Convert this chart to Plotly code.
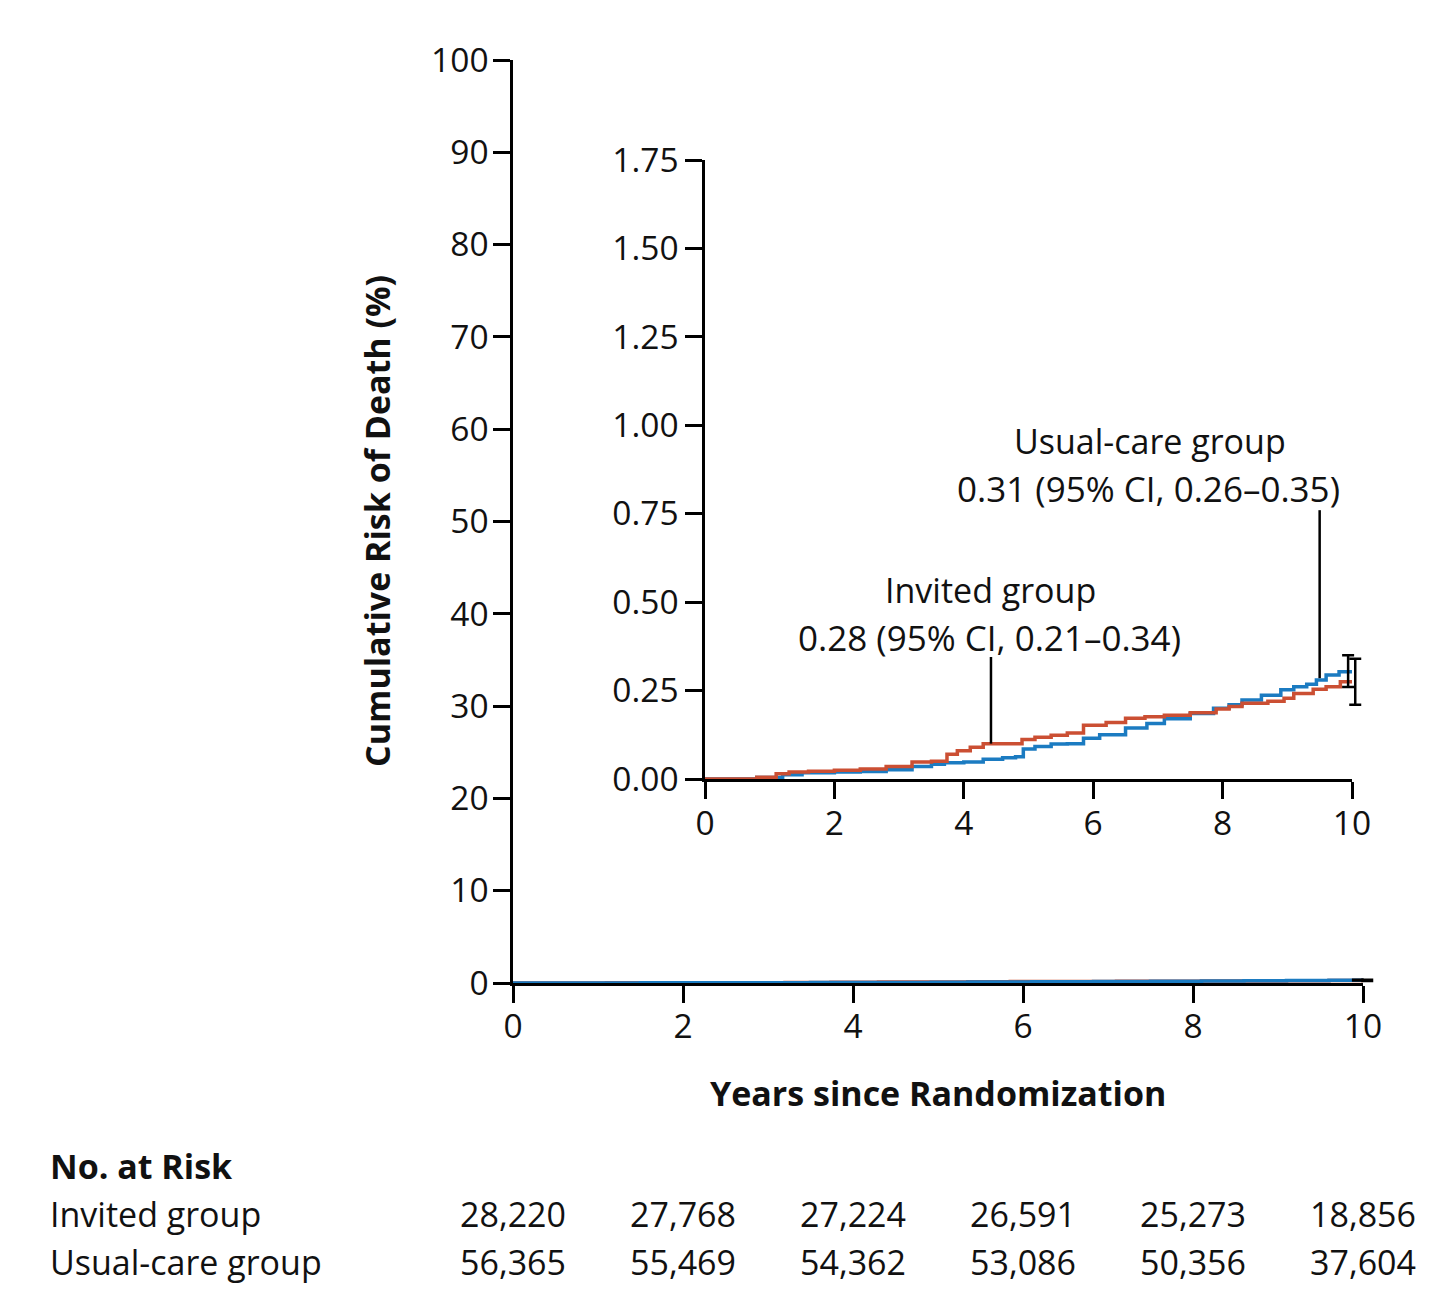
import plotly.graph_objects as go

# ---- Data ----
invited_t = [0, 0.35, 0.8, 1.1, 1.3, 1.6, 2.0, 2.4, 2.8, 3.2, 3.5, 3.74, 3.9, 4.1, 4.3,
             4.75, 4.9, 5.1, 5.35, 5.6, 5.85, 6.2, 6.5, 6.8, 7.1, 7.5, 7.9, 8.1, 8.3,
             8.7, 8.95, 9.1, 9.4, 9.6, 9.82, 10.0]
invited_y = [0, 0, 0.005, 0.015, 0.02, 0.022, 0.025, 0.028, 0.035, 0.048, 0.05, 0.07, 0.08,
             0.09, 0.10, 0.10, 0.112, 0.118, 0.124, 0.13, 0.152, 0.16, 0.172, 0.176, 0.18,
             0.187, 0.198, 0.205, 0.214, 0.22, 0.228, 0.242, 0.254, 0.261, 0.275, 0.275]

usual_t = [0, 0.35, 0.8, 1.2, 1.5, 2.0, 2.4, 2.8, 3.2, 3.5, 3.7, 4.0, 4.3, 4.6, 4.8, 4.92,
           5.1, 5.35, 5.6, 5.85, 6.1, 6.5, 6.83, 7.1, 7.5, 7.86, 8.1, 8.3, 8.6, 8.9, 9.1,
           9.3, 9.45, 9.6, 9.8, 10.0]
usual_y = [0, 0, 0.004, 0.012, 0.018, 0.02, 0.021, 0.026, 0.035, 0.042, 0.046, 0.048, 0.056,
           0.06, 0.063, 0.085, 0.092, 0.099, 0.10, 0.115, 0.125, 0.144, 0.157, 0.17, 0.185,
           0.20, 0.21, 0.223, 0.237, 0.252, 0.261, 0.268, 0.28, 0.294, 0.303, 0.306]

invited_est, invited_ci = 0.28, [0.21, 0.34]
usual_est, usual_ci = 0.31, [0.26, 0.35]

risk_times = [0, 2, 4, 6, 8, 10]
risk_invited = ["28,220", "27,768", "27,224", "26,591", "25,273", "18,856"]
risk_usual = ["56,365", "55,469", "54,362", "53,086", "50,356", "37,604"]

main_yticks = [0, 10, 20, 30, 40, 50, 60, 70, 80, 90, 100]
inset_yticks = [0, 0.25, 0.5, 0.75, 1.0, 1.25, 1.5, 1.75]
xticks = [0, 2, 4, 6, 8, 10]

RED = "#CB4F33"
BLUE = "#1B7BC1"
FONT = "Open Sans"
W, H = 1456, 1310

def px(x):
    return x / W

def py(y):
    return (H - y) / H

# plot-area pixel geometry
MAIN_L, MAIN_R, MAIN_B, MAIN_T = 513, 1363, 983, 60
INS_L, INS_R, INS_B, INS_T = 705, 1352, 779, 160
EXT = 20  # extra room on the right for the CI bars (not clipped)

fig = go.Figure()

def curve(t, y, color, xa, ya):
    return go.Scatter(x=t, y=y, mode="lines", line_shape="hv",
                      line=dict(color=color, width=3.5), xaxis=xa, yaxis=ya,
                      showlegend=False, hoverinfo="skip")

def ci_bar(x, est, ci, xa, ya):
    return go.Scatter(x=[x], y=[est], mode="markers",
                      marker=dict(size=1, color="rgba(0,0,0,0)"),
                      error_y=dict(type="data", symmetric=False,
                                   array=[ci[1] - est], arrayminus=[est - ci[0]],
                                   color="black", thickness=2.5, width=6),
                      xaxis=xa, yaxis=ya, showlegend=False, hoverinfo="skip")

# main panel: blue on top
fig.add_trace(curve(invited_t, invited_y, RED, "x", "y"))
fig.add_trace(curve(usual_t, usual_y, BLUE, "x", "y"))
fig.add_trace(ci_bar(9.94, usual_est, usual_ci, "x3", "y"))
fig.add_trace(ci_bar(10.05, invited_est, invited_ci, "x3", "y"))
# inset panel: red on top
fig.add_trace(curve(usual_t, usual_y, BLUE, "x2", "y2"))
fig.add_trace(curve(invited_t, invited_y, RED, "x2", "y2"))
fig.add_trace(ci_bar(9.94, usual_est, usual_ci, "x4", "y2"))
fig.add_trace(ci_bar(10.05, invited_est, invited_ci, "x4", "y2"))

axis_common = dict(showline=True, linecolor="black", linewidth=2.5, ticks="outside",
                   tickcolor="black", tickwidth=2.5, ticklen=17, showgrid=False,
                   zeroline=False, automargin=False,
                   tickfont=dict(family=FONT, size=33.5, color="#111"))

main_ext = 10 * (MAIN_R + EXT - MAIN_L) / (MAIN_R - MAIN_L)
ins_ext = 10 * (INS_R + EXT - INS_L) / (INS_R - INS_L)

fig.update_layout(
    width=W, height=H, margin=dict(l=0, r=0, t=0, b=0, autoexpand=False),
    paper_bgcolor="white", plot_bgcolor="rgba(0,0,0,0)",
    xaxis=dict(domain=[px(MAIN_L), px(MAIN_R)], range=[0, 10], tickvals=xticks,
               anchor="y", ticklabelstandoff=-5, **axis_common),
    yaxis=dict(domain=[py(MAIN_B), py(MAIN_T)], range=[0, 100], tickvals=main_yticks,
               anchor="x", ticklabelstandoff=-2, **axis_common),
    xaxis2=dict(domain=[px(INS_L), px(INS_R)], range=[0, 10], tickvals=xticks,
                anchor="y2", ticklabelstandoff=-4, **axis_common),
    yaxis2=dict(domain=[py(INS_B), py(INS_T)], range=[0, 1.75], tickvals=inset_yticks,
                tickformat=".2f", anchor="x2", **axis_common),
    xaxis3=dict(domain=[px(MAIN_L), px(MAIN_R + EXT)], range=[0, main_ext],
                anchor="y", visible=False, automargin=False),
    xaxis4=dict(domain=[px(INS_L), px(INS_R + EXT)], range=[0, ins_ext],
                anchor="y2", visible=False, automargin=False),
)

ann = []
txtfont = dict(family=FONT, size=34, color="#111")
cifont = dict(family=FONT, size=35, color="#111")

# Axis titles
ann.append(dict(text="<b>Cumulative Risk of Death (%)</b>", x=px(377), y=py(521),
                xref="paper", yref="paper", textangle=-90, showarrow=False,
                font=txtfont, xanchor="center", yanchor="middle"))
ann.append(dict(text="<b>Years since Randomization</b>", x=px(938), y=py(1093),
                xref="paper", yref="paper", showarrow=False, font=txtfont,
                xanchor="center", yanchor="middle"))

# Inset labels
ann.append(dict(text="Usual-care group", x=6.88, y=0.956, xref="x2", yref="y2",
                showarrow=False, font=txtfont, xanchor="center", yanchor="middle"))
ann.append(dict(text="0.31 (95% CI, 0.26–0.35)", x=6.85, y=0.82, xref="x2", yref="y2",
                showarrow=False, font=cifont, xanchor="center", yanchor="middle"))
ann.append(dict(text="Invited group", x=4.42, y=0.534, xref="x2", yref="y2",
                showarrow=False, font=txtfont, xanchor="center", yanchor="middle"))
ann.append(dict(text="0.28 (95% CI, 0.21–0.34)", x=4.39, y=0.40, xref="x2", yref="y2",
                showarrow=False, font=cifont, xanchor="center", yanchor="middle"))

# No. at risk table
ann.append(dict(text="<b>No. at Risk</b>", x=px(48), y=py(1166), xref="paper", yref="paper",
                showarrow=False, font=txtfont, xanchor="left", yanchor="middle"))
ann.append(dict(text="Invited group", x=px(48), y=py(1214), xref="paper", yref="paper",
                showarrow=False, font=txtfont, xanchor="left", yanchor="middle"))
ann.append(dict(text="Usual-care group", x=px(48), y=py(1262), xref="paper", yref="paper",
                showarrow=False, font=txtfont, xanchor="left", yanchor="middle"))
for t, a, b in zip(risk_times, risk_invited, risk_usual):
    ann.append(dict(text=a, x=t, y=py(1214), xref="x", yref="paper", showarrow=False,
                    font=txtfont, xanchor="center", yanchor="middle"))
    ann.append(dict(text=b, x=t, y=py(1262), xref="x", yref="paper", showarrow=False,
                    font=txtfont, xanchor="center", yanchor="middle"))

fig.update_layout(annotations=ann)

# Leader lines
fig.add_shape(type="line", xref="x2", yref="y2", x0=9.5, x1=9.5, y0=0.76, y1=0.285,
              line=dict(color="black", width=2.5))
fig.add_shape(type="line", xref="x2", yref="y2", x0=4.42, x1=4.42, y0=0.345, y1=0.10,
              line=dict(color="black", width=2.5))

fig.write_html("out.html", config={"displayModeBar": False},
               post_script="document.body.style.margin='0px';")
